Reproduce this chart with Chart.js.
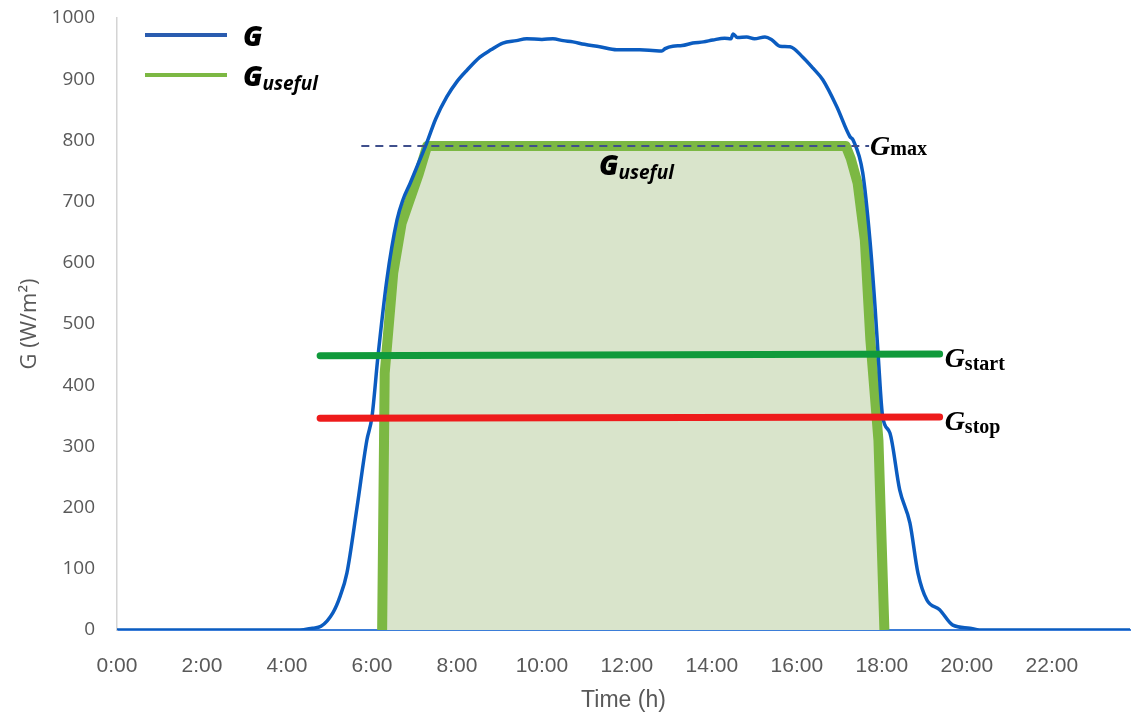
<!DOCTYPE html>
<html>
<head>
<meta charset="utf-8">
<script src="https://cdn.jsdelivr.net/npm/chart.js@4.4.1/dist/chart.umd.min.js"></script>
<style>
  body { margin: 0; background: #fff; }
  #wrap { position: relative; width: 1132px; height: 714px; }
  #wrap canvas { position: absolute; left: 0; top: 0; }
  .lbl { position: absolute; white-space: nowrap; color: #000; line-height: 1; transform: translateY(-50%); }
  .serif { font-family: "Liberation Serif", "Times New Roman", serif; font-weight: bold; }
  .serif i { font-size: 28px; }
  .serif span { font-size: 20px; }
  .sans { font-family: "Open Sans", sans-serif; font-weight: bold; font-style: italic; }
  .sans b { font-size: 28px; }
  .sans span { font-size: 19px; position: relative; top: 4px; }
  #legend { position: absolute; left: 145px; top: 15px; }
  .row { display: flex; align-items: center; height: 40px; }
  .swatch { width: 82px; height: 4px; margin-right: 16px; }
</style>
</head>
<body>
<div id="wrap">
  <canvas id="chart" width="1132" height="714"></canvas>
  <div id="legend">
    <div class="row"><div class="swatch" style="background:#2a5caf"></div><div class="sans"><b>G</b></div></div>
    <div class="row"><div class="swatch" style="background:#7cb843"></div><div class="sans"><b>G</b><span>useful</span></div></div>
  </div>
  <div id="lab-max" class="lbl serif"><i>G</i><span>max</span></div>
  <div id="lab-start" class="lbl serif"><i>G</i><span style="position:relative;top:3px">start</span></div>
  <div id="lab-stop" class="lbl serif"><i>G</i><span style="position:relative;top:3px">stop</span></div>
  <div id="lab-useful" class="lbl sans"><b>G</b><span>useful</span></div>
</div>
<script>
// measured irradiance G over the day (hours, W/m2)
const gHours = [0, 4.3, 4.6, 4.8, 5.08, 5.25, 5.41, 5.65, 5.88, 6.0, 6.14, 6.35, 6.59, 6.73, 6.9, 7.06, 7.29, 7.5, 7.76, 8.0, 8.24, 8.54, 8.8, 9.08, 9.4, 9.64, 10.0, 10.26, 10.5, 10.73, 11.0, 11.36, 11.76, 12.0, 12.3, 12.6, 12.82, 12.9, 13.08, 13.3, 13.55, 13.8, 14.02, 14.3, 14.45, 14.5, 14.6, 14.82, 15.0, 15.25, 15.4, 15.6, 15.84, 16.14, 16.38, 16.61, 16.94, 17.25, 17.32, 17.55, 17.72, 17.84, 17.91, 18.02, 18.19, 18.42, 18.66, 18.85, 19.06, 19.36, 19.67, 20.07, 20.3, 23.84];
const gValues = [0, 0, 3, 6, 28, 55, 93, 201, 310, 348, 446, 572, 670, 703, 730, 757, 796, 835, 871, 896, 915, 936, 948, 959, 963, 966, 965, 966, 963, 961, 957, 953, 948, 948, 948, 947, 946, 950, 954, 955, 959, 961, 964, 967, 966, 974, 968, 969, 966, 969, 965, 954, 953, 936, 918, 899, 855, 806, 801, 747, 637, 528, 453, 348, 322, 229, 175, 93, 49, 33, 8, 3, 0, 0];

// useful irradiance (clipped at Gmax)
const usefulHours = [6.24, 6.3, 6.5, 6.7, 6.85, 7.1, 7.3, 17.15, 17.27, 17.43, 17.6, 17.73, 17.92, 18.06];
const usefulValues = [0, 420, 583, 665, 695, 745, 791, 791, 770, 730, 637, 474, 310, 0];

// thresholds
const maxHours = [5.75, 17.7];
const maxValues = [791, 791];
const startHours = [4.78, 19.36];
const startValues = [448, 451];
const stopHours = [4.78, 19.36];
const stopValues = [346, 348];

const xTicks = [0, 2, 4, 6, 8, 10, 12, 14, 16, 18, 20, 22];
const yTickStep = 100;

function pts(xs, ys) {
  return xs.map((x, i) => ({ x: x, y: ys[i] }));
}

const usefulBase = [
  { x: usefulHours[0], y: 0 },
  { x: usefulHours[usefulHours.length - 1], y: 0 }
];

function place(id, left, top) {
  const el = document.getElementById(id);
  el.style.left = left + 'px';
  el.style.top = top + 'px';
}

const overlay = {
  id: 'overlay',
  afterDraw(chart) {
    const x = chart.scales.x, y = chart.scales.y;
    place('lab-max', x.getPixelForValue(maxHours[1]) + 1, y.getPixelForValue(maxValues[1]));
    place('lab-start', x.getPixelForValue(startHours[1]) + 5, y.getPixelForValue(startValues[1]) + 4);
    place('lab-stop', x.getPixelForValue(stopHours[1]) + 5, y.getPixelForValue(stopValues[1]) + 4);
    const u = document.getElementById('lab-useful');
    const mid = (usefulHours[6] + usefulHours[7]) / 2;
    place('lab-useful', x.getPixelForValue(mid) - u.offsetWidth / 2, y.getPixelForValue(usefulValues[6]) + 18);
  }
};

const tickGray = '#595959';

new Chart(document.getElementById('chart'), {
  type: 'line',
  data: {
    datasets: [
      { label: 'Gstart', data: pts(startHours, startValues), borderColor: '#109a3b', borderWidth: 7, borderCapStyle: 'round', pointRadius: 0 },
      { label: 'Gstop', data: pts(stopHours, stopValues), borderColor: '#ee1b1b', borderWidth: 7, borderCapStyle: 'round', pointRadius: 0 },
      { label: 'Gmax', data: pts(maxHours, maxValues), borderColor: '#3f4f8c', borderWidth: 2, borderDash: [8, 6], pointRadius: 0 },
      { label: 'G', data: pts(gHours, gValues), borderColor: '#0b5cc0', borderWidth: 3.5, pointRadius: 0, cubicInterpolationMode: 'monotone' },
      { label: 'Guseful', data: pts(usefulHours, usefulValues), borderColor: '#7cb843', backgroundColor: '#d9e4cb', fill: 'origin', borderWidth: 10, borderJoinStyle: 'round', pointRadius: 0 },
      { label: 'base', data: usefulBase, borderColor: '#7cb843', borderWidth: 6, pointRadius: 0 }
    ]
  },
  options: {
    responsive: false,
    animation: false,
    devicePixelRatio: 1,
    layout: { padding: { top: 18, right: 2, left: 0, bottom: 0 } },
    plugins: { legend: { display: false }, tooltip: { enabled: false } },
    scales: {
      x: {
        type: 'linear',
        min: 0,
        max: 23.84,
        afterBuildTicks: s => { s.ticks = xTicks.map(v => ({ value: v })); },
        afterFit: s => { s.height = 84; },
        ticks: {
          maxRotation: 0,
          autoSkip: false,
          padding: 24,
          color: tickGray,
          font: { family: "'Liberation Sans Narrow', 'Liberation Sans', sans-serif", size: 21 },
          callback: v => v + ':00'
        },
        grid: { display: false, drawTicks: false },
        border: { display: true, color: '#3b7dd8', width: 2 },
        title: {
          display: true,
          text: 'Time (h)',
          color: tickGray,
          font: { family: "'Liberation Sans Narrow', 'Liberation Sans', sans-serif", size: 23, lineHeight: 1.2 },
          padding: { top: 0, bottom: 0 }
        }
      },
      y: {
        min: 0,
        max: 1000,
        afterFit: s => { s.width = 117; s.paddingTop = 8; s.paddingBottom = 8; },
        ticks: {
          stepSize: yTickStep,
          padding: 22,
          color: tickGray,
          font: { family: "'Open Sans', sans-serif", size: 19 },
          callback: v => String(v)
        },
        grid: { display: false, drawTicks: false },
        border: { display: true, color: '#d4d4d4', width: 1.5 },
        title: {
          display: true,
          text: 'G (W/m²)',
          color: tickGray,
          font: { family: "'Open Sans', sans-serif", size: 22, lineHeight: 1.2 },
          padding: { top: 17, bottom: 0 }
        }
      }
    }
  },
  plugins: [overlay]
});
</script>
</body>
</html>
